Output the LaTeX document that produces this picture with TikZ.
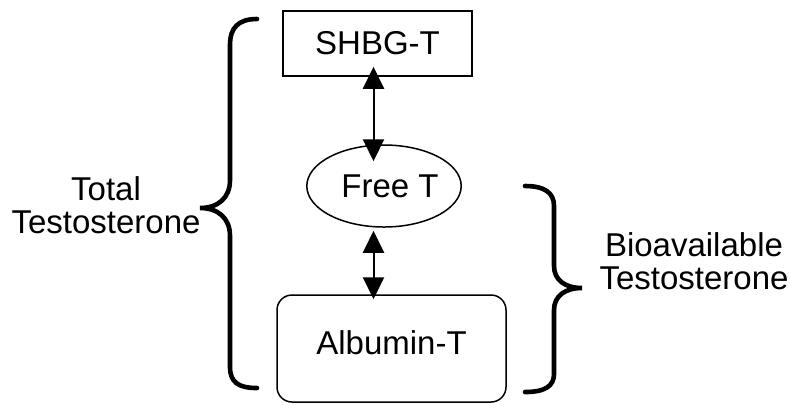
\documentclass[tikz,border=0pt]{standalone}
\usepackage{fontspec}
\setmainfont{Liberation Sans}
\usetikzlibrary{arrows.meta, shapes.geometric}

\tikzset{
    lbl/.style={align=center, font=\fontsize{16.5}{16.8}\selectfont},
    sqbox/.style={draw, line width=0.75pt, inner sep=0pt, font=\fontsize{16.5}{19}\selectfont},
    dblarrow/.style={line width=1pt, {Triangle[length=11pt,width=10.5pt]}-{Triangle[length=11pt,width=10.5pt]}},
    brace/.style={line width=2.3pt, line cap=round}
}

\begin{document}
\begin{tikzpicture}[x=0.5pt, y=-0.5pt]
        \useasboundingbox (0, 0) rectangle (790, 404);
        \node[sqbox, minimum width=94.5pt, minimum height=32.5pt] (shbg) at (377.5, 43.5) {SHBG-T};
        \node[sqbox, ellipse, minimum width=69pt, minimum height=41pt] (free) at (384, 186) {\hspace{6pt}Free T};
        \node[sqbox, rounded corners=7.5pt, minimum width=114.5pt, minimum height=53.5pt, text depth=6pt] (alb) at (391.5, 348.5) {Albumin-T};
        \coordinate (axis) at (373.5, 0);
        \draw[dblarrow, shorten <=-5pt, shorten >=-8.5pt] (shbg.south -| axis) -- (free.north -| axis);
        \draw[dblarrow, shorten <=1.5pt, shorten >=-2.5pt] (free.south -| axis) -- (alb.north -| axis);
        \node[lbl] (total) at (106, 205) {Total\\Testosterone};
        \node[lbl] (bio) at (694, 261) {Bioavailable\\Testosterone};
        % braces
        \draw[brace] (257, 19) .. controls (238, 19) and (230, 28) .. (230, 45) -- (230, 180)
            .. controls (230, 198) and (218, 208) .. (200, 208)
            .. controls (218, 208) and (230, 218) .. (230, 236) -- (230, 367)
            .. controls (230, 382) and (238, 388) .. (257, 388);
        \draw[brace] (525, 186) .. controls (545, 186) and (554, 193) .. (554, 206) -- (554, 266)
            .. controls (554, 280) and (565, 288) .. (582, 288)
            .. controls (565, 288) and (554, 296) .. (554, 310) -- (554, 374)
            .. controls (554, 386) and (545, 392) .. (525, 392);
    \end{tikzpicture}
\end{document}
